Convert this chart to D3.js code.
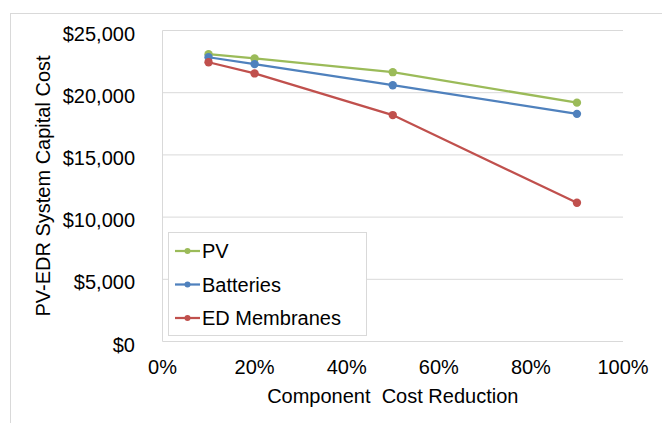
<!DOCTYPE html>
<html lang="en">
<head>
<meta charset="utf-8">
<title>PV-EDR System Capital Cost</title>
<script src="https://cdn.jsdelivr.net/npm/d3@7"></script>
<style>
  body { margin: 0; background: #fff; }
  svg { display: block; font-family: "Liberation Sans", Arial, Helvetica, sans-serif; }
</style>
</head>
<body>
<script>
// component cost reduction (fraction)
var reductions = [0.1, 0.2, 0.5, 0.9];

var seriesNames = ["PV", "Batteries", "ED Membranes"];
var pvCost = [23100, 22750, 21650, 19200];
var batteryCost = [22850, 22300, 20600, 18300];
var membraneCost = [22450, 21550, 18200, 11150];
var seriesColors = ["#9bbb59", "#4f81bd", "#c0504d"];

var yTicks = [0, 5000, 10000, 15000, 20000, 25000];
var xTicks = [0, 0.2, 0.4, 0.6, 0.8, 1.0];

var width = 662, height = 423;
var margin = {left: 162.5, right: 39, top: 30.5, bottom: 81.5};

var svg = d3.select("body").append("svg")
  .attr("width", width)
  .attr("height", height);

// outer chart frame
svg.append("rect")
  .attr("x", 10.5).attr("y", 13.5)
  .attr("width", 700).attr("height", 500)
  .attr("fill", "none")
  .attr("stroke", "#d9d9d9");

var x = d3.scaleLinear().domain([0, 1]).range([margin.left, width - margin.right]);
var y = d3.scaleLinear().domain([0, 25000]).range([height - margin.bottom, margin.top]);

// gridlines
svg.append("g")
  .selectAll("line")
  .data(yTicks)
  .enter()
  .append("line")
  .attr("x1", x(0)).attr("x2", x(1))
  .attr("y1", function(d) { return y(d); })
  .attr("y2", function(d) { return y(d); })
  .attr("stroke", "#d9d9d9")
  .attr("stroke-width", 1);

// left axis line
svg.append("line")
  .attr("x1", x(0)).attr("x2", x(0))
  .attr("y1", y(0)).attr("y2", y(25000))
  .attr("stroke", "#d9d9d9");

// y tick labels
var money = d3.format("$,");
svg.append("g")
  .selectAll("text")
  .data(yTicks)
  .enter()
  .append("text")
  .attr("x", 135)
  .attr("y", function(d) { return y(d) + 3; })
  .attr("dy", "0.35em")
  .attr("text-anchor", "end")
  .attr("font-size", 20)
  .attr("fill", "#000")
  .text(function(d) { return money(d); });

// x tick labels
var pct = d3.format(".0%");
svg.append("g")
  .selectAll("text")
  .data(xTicks)
  .enter()
  .append("text")
  .attr("x", function(d) { return x(d); })
  .attr("y", 374)
  .attr("text-anchor", "middle")
  .attr("font-size", 20)
  .attr("fill", "#000")
  .text(function(d) { return pct(d); });

// axis titles
svg.append("text")
  .attr("x", x(0.5))
  .attr("y", 403)
  .attr("text-anchor", "middle")
  .attr("font-size", 20)
  .attr("fill", "#000")
  .style("white-space", "pre")
  .text("Component  Cost Reduction");

svg.append("text")
  .attr("transform", "translate(50," + ((y(0) + y(25000)) / 2) + ") rotate(-90)")
  .attr("text-anchor", "middle")
  .attr("font-size", 20)
  .attr("fill", "#000")
  .text("PV-EDR System Capital Cost");

// series
var allSeries = [pvCost, batteryCost, membraneCost];
var line = d3.line()
  .x(function(d, i) { return x(reductions[i]); })
  .y(function(d) { return y(d); });

allSeries.forEach(function(values, k) {
  var g = svg.append("g");
  g.append("path")
    .datum(values)
    .attr("d", line)
    .attr("fill", "none")
    .attr("stroke", seriesColors[k])
    .attr("stroke-width", 2.25);
  g.selectAll("circle")
    .data(values)
    .enter()
    .append("circle")
    .attr("cx", function(d, i) { return x(reductions[i]); })
    .attr("cy", function(d) { return y(d); })
    .attr("r", 4.2)
    .attr("fill", seriesColors[k]);
});

// legend
var legend = svg.append("g");
legend.append("rect")
  .attr("x", 168.5).attr("y", 232.5)
  .attr("width", 198).attr("height", 103)
  .attr("fill", "#fff")
  .attr("stroke", "#d9d9d9");

var items = legend.selectAll("g.item")
  .data(seriesNames)
  .enter()
  .append("g")
  .attr("class", "item")
  .attr("transform", function(d, i) { return "translate(0," + (251 + i * 33.5) + ")"; });

items.append("line")
  .attr("x1", 175).attr("x2", 200)
  .attr("y1", 0).attr("y2", 0)
  .attr("stroke", function(d, i) { return seriesColors[i]; })
  .attr("stroke-width", 2.25);
items.append("circle")
  .attr("cx", 187.5).attr("cy", 0).attr("r", 3)
  .attr("fill", function(d, i) { return seriesColors[i]; });
items.append("text")
  .attr("x", 202)
  .attr("y", 0)
  .attr("dy", "0.35em")
  .attr("font-size", 20)
  .attr("fill", "#000")
  .text(function(d) { return d; });
</script>
</body>
</html>
